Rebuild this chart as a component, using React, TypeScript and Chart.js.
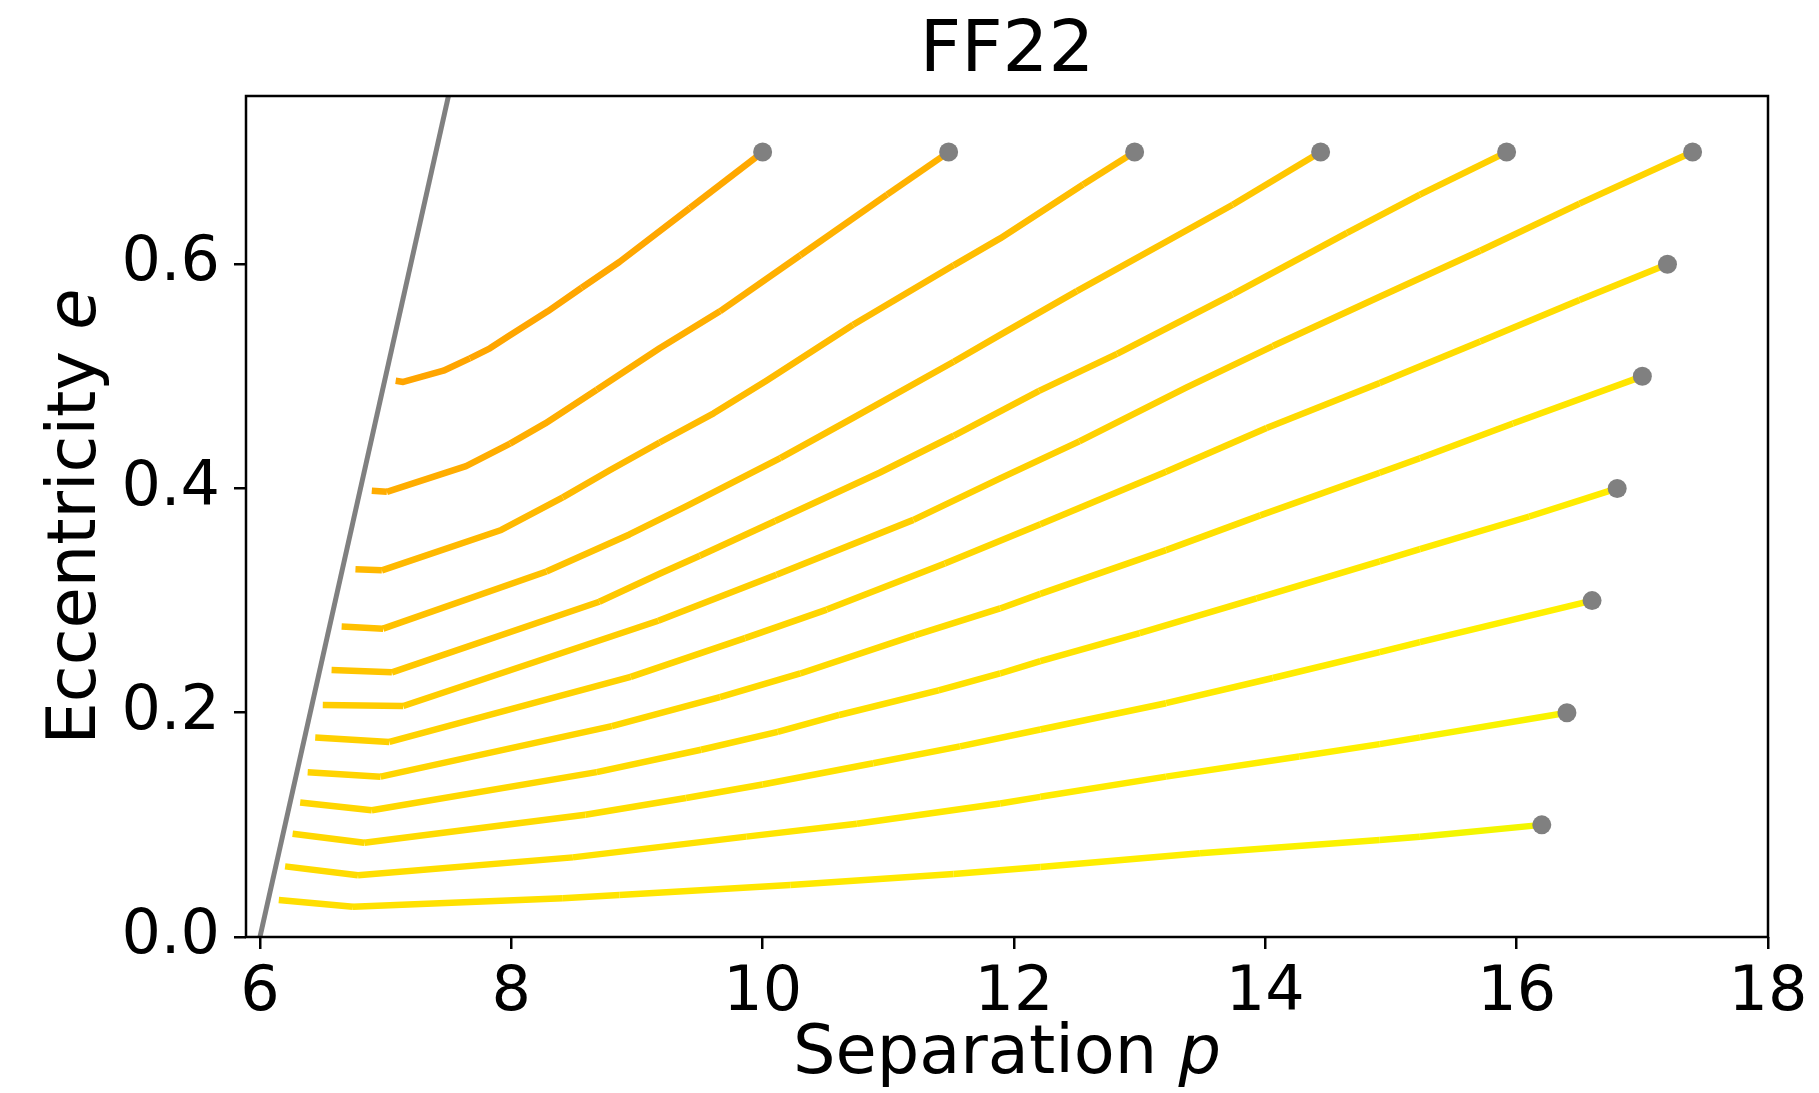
import React, { useEffect, useRef } from 'react';
import { Chart, registerables } from 'chart.js';

Chart.register(...registerables);

// ---- data ----
const xTicks = [6, 8, 10, 12, 14, 16, 18];
const yTicks = [0, 0.2, 0.4, 0.6];
const separatrixE = [0, 0.8]; // separatrix p = 6 + 2e
const startP = [10, 11.48, 12.96, 14.44, 15.92, 17.4, 17.2, 17.0, 16.8, 16.6, 16.4, 16.2];
const startE = [0.7, 0.7, 0.7, 0.7, 0.7, 0.7, 0.6, 0.5, 0.4, 0.3, 0.2, 0.1];

const track1 = [[7.08,0.496],[7.14,0.495],[7.46,0.505],[7.67,0.516],[7.83,0.525],[7.98,0.536],[8.29,0.558],[8.56,0.579],[8.86,0.602],[9.42,0.650],[10.0,0.7]];
const track2 = [[6.89,0.398],[7.01,0.397],[7.64,0.420],[7.99,0.440],[8.27,0.458],[8.68,0.488],[9.18,0.525],[9.66,0.558],[10.30,0.608],[10.99,0.662],[11.48,0.7]];
const track3 = [[6.76,0.328],[6.97,0.327],[7.92,0.363],[8.41,0.392],[8.78,0.416],[9.18,0.441],[9.61,0.467],[10.03,0.496],[10.72,0.546],[11.52,0.599],[11.89,0.623],[12.55,0.671],[12.96,0.7]];
const track4 = [[6.65,0.277],[6.98,0.275],[8.28,0.326],[8.94,0.359],[9.39,0.384],[10.14,0.427],[10.72,0.463],[11.52,0.513],[11.89,0.537],[12.50,0.576],[13.21,0.620],[13.74,0.653],[14.44,0.7]];
const track5 = [[6.57,0.238],[7.05,0.236],[8.70,0.299],[9.18,0.324],[9.50,0.340],[10.10,0.371],[10.93,0.414],[11.52,0.447],[12.20,0.487],[12.82,0.520],[13.74,0.573],[14.65,0.628],[15.23,0.662],[15.92,0.7]];
const track6 = [[6.50,0.207],[7.14,0.206],[9.17,0.282],[10.11,0.323],[11.20,0.372],[11.89,0.409],[12.52,0.442],[13.37,0.490],[14.06,0.527],[14.91,0.571],[15.71,0.612],[16.50,0.654],[17.40,0.7]];
const track7 = [[6.44,0.178],[7.03,0.174],[8.95,0.232],[9.86,0.2665],[10.51,0.292],[11.45,0.333],[12.21,0.368],[13.21,0.415],[14.01,0.454],[14.91,0.494],[15.71,0.531],[16.50,0.568],[17.20,0.6]];
const track8 = [[6.38,0.147],[6.96,0.143],[8.80,0.188],[9.66,0.214],[10.30,0.235],[11.21,0.269],[11.89,0.293],[12.21,0.306],[13.21,0.345],[13.96,0.376],[14.91,0.414],[15.23,0.427],[15.97,0.458],[17.0,0.5]];
const track9 = [[6.32,0.120],[6.89,0.113],[8.68,0.147],[9.51,0.167],[10.12,0.183],[10.61,0.198],[11.40,0.220],[11.89,0.235],[12.21,0.246],[13.0,0.271],[13.93,0.302],[14.91,0.335],[15.23,0.346],[16.10,0.375],[16.8,0.4]];
const track10 = [[6.26,0.092],[6.83,0.084],[8.59,0.109],[9.39,0.124],[10.0,0.136],[10.88,0.155],[11.57,0.170],[12.21,0.185],[13.21,0.2085],[14.06,0.231],[14.91,0.254],[15.23,0.263],[16.6,0.3]];
const track11 = [[6.20,0.063],[6.78,0.055],[8.49,0.071],[9.87,0.0895],[10.75,0.101],[11.89,0.119],[12.21,0.125],[13.21,0.143],[14.27,0.161],[14.91,0.172],[15.23,0.178],[16.4,0.2]];
const track12 = [[6.15,0.033],[6.74,0.027],[8.41,0.0345],[8.86,0.0375],[10.22,0.0464],[11.52,0.0562],[12.21,0.0625],[13.48,0.0747],[14.91,0.0865],[15.23,0.0895],[16.2,0.1]];

const tracks = [track1, track2, track3, track4, track5, track6, track7, track8, track9, track10, track11, track12];

// green channel of the yellow-orange shade at the plunge end and at the start end of each track
const greenAtPlunge = [165, 172, 184, 192, 197, 204, 208, 210, 213, 215, 218, 221];
const greenAtStart = [168, 178, 190, 198, 208, 212, 222, 230, 237, 242, 245, 247];

const W = 1819;
const H = 1093;
const FONT = '"DejaVu Sans", "Liberation Sans", sans-serif';
const TICK_SIZE = 62;
const LABEL_SIZE = 67;
const TITLE_SIZE = 72;

function shade(g: number) {
  const gg = Math.round(g);
  const r = gg > 240 ? Math.round(255 - (gg - 240) * 2) : 255;
  return `rgb(${r},${gg},0)`;
}

function drawMixed(ctx: CanvasRenderingContext2D, parts: [string, string][], cx: number, y: number, size: number) {
  const fonts = parts.map(([, st]) => `${st === 'italic' ? 'oblique ' : ''}${size}px ${FONT}`);
  let total = 0;
  const widths = parts.map(([t], i) => {
    ctx.font = fonts[i];
    const w = ctx.measureText(t).width;
    total += w;
    return w;
  });
  let x = cx - total / 2;
  ctx.textAlign = 'left';
  parts.forEach(([t], i) => {
    ctx.font = fonts[i];
    ctx.fillText(t, x, y);
    x += widths[i];
  });
}

const framePlugin = {
  id: 'frame',
  afterDatasetsDraw(chart: any) {
    const { ctx, chartArea: a } = chart;
    ctx.save();
    ctx.strokeStyle = '#000';
    ctx.lineWidth = 2.5;
    ctx.strokeRect(a.left, a.top, a.right - a.left, a.bottom - a.top);
    ctx.restore();
  },
  afterDraw(chart: any) {
    const { ctx, chartArea: a } = chart;
    ctx.save();
    ctx.fillStyle = '#000';
    ctx.textBaseline = 'alphabetic';
    ctx.font = `${TITLE_SIZE}px ${FONT}`;
    ctx.textAlign = 'center';
    ctx.fillText('FF22', (a.left + a.right) / 2, 71);
    drawMixed(ctx, [['Separation ', 'normal'], ['p', 'italic']], (a.left + a.right) / 2, 1073, LABEL_SIZE);
    ctx.translate(95, (a.top + a.bottom) / 2);
    ctx.rotate(-Math.PI / 2);
    drawMixed(ctx, [['Eccentricity ', 'normal'], ['e', 'italic']], 0, 0, LABEL_SIZE);
    ctx.restore();
  },
};

export default function App() {
  const ref = useRef<HTMLCanvasElement | null>(null);

  useEffect(() => {
    if (!ref.current) return;
    const datasets: any[] = [];
    datasets.push({
      label: 'start',
      data: startP.map((p, i) => ({ x: p, y: startE[i] })),
      showLine: false,
      pointRadius: 9.5,
      pointBackgroundColor: '#808080',
      pointBorderWidth: 0,
      pointHoverRadius: 9.5,
    });
    tracks.forEach((tr, k) => {
      const pMin = tr[0][0];
      const pMax = tr[tr.length - 1][0];
      datasets.push({
        label: `track${k + 1}`,
        data: tr.map(([p, e]) => ({ x: p, y: e })),
        showLine: true,
        pointRadius: 0,
        borderWidth: 6.5,
        tension: 0,
        borderCapStyle: 'butt',
        borderJoinStyle: 'round',
        borderColor: shade(greenAtPlunge[k]),
        segment: {
          borderWidth: 6.5,
          borderColor: (c: any) => {
            const i = c.p0DataIndex;
            const mid = (tr[i][0] + tr[i + 1][0]) / 2;
            const f = (mid - pMin) / (pMax - pMin);
            return shade(greenAtPlunge[k] + (greenAtStart[k] - greenAtPlunge[k]) * f);
          },
        },
      });
    });
    datasets.push({
      label: 'separatrix',
      data: separatrixE.map((e) => ({ x: 6 + 2 * e, y: e })),
      showLine: true,
      pointRadius: 0,
      borderWidth: 5,
      borderColor: '#808080',
    });

    const chart = new Chart(ref.current, {
      type: 'scatter',
      data: { datasets },
      options: {
        animation: false,
        responsive: false,
        devicePixelRatio: 1,
        events: [],
        layout: { padding: { top: 96, right: 51, left: 0, bottom: 0 } },
        plugins: { legend: { display: false }, tooltip: { enabled: false }, title: { display: false } },
        scales: {
          x: {
            type: 'linear',
            min: 5.889,
            max: 18,
            afterFit: (s: any) => { s.height = 156; },
            afterBuildTicks: (s: any) => { s.ticks = xTicks.map((v) => ({ value: v })); },
            ticks: {
              color: '#000',
              font: { family: FONT, size: TICK_SIZE },
              padding: 8,
              maxRotation: 0,
              autoSkip: false,
              callback: (v: any) => String(v),
            },
            grid: { drawOnChartArea: false, drawTicks: true, tickLength: 12, color: '#000', lineWidth: 2.5 },
            border: { display: false },
          },
          y: {
            type: 'linear',
            min: 0,
            max: 0.75,
            afterFit: (s: any) => { s.width = 246; },
            afterBuildTicks: (s: any) => { s.ticks = yTicks.map((v) => ({ value: v })); },
            ticks: {
              color: '#000',
              font: { family: FONT, size: TICK_SIZE },
              padding: 14,
              autoSkip: false,
              callback: (v: any) => Number(v).toFixed(1),
            },
            grid: { drawOnChartArea: false, drawTicks: true, tickLength: 12, color: '#000', lineWidth: 2.5 },
            border: { display: false },
          },
        },
      },
      plugins: [framePlugin],
    });
    return () => chart.destroy();
  }, []);

  return (
    <div style={{ position: 'absolute', left: 0, top: 0, width: W, height: H, background: '#fff' }}>
      <canvas ref={ref} width={W} height={H} style={{ width: W, height: H, display: 'block' }} />
    </div>
  );
}
